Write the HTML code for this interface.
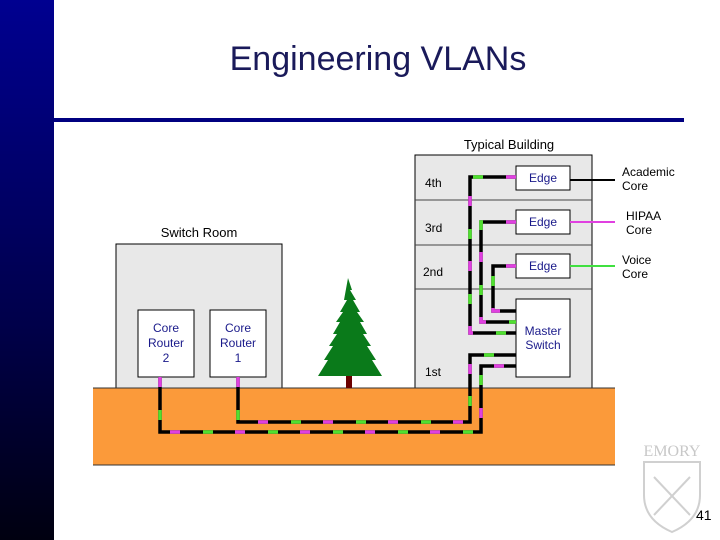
<!DOCTYPE html>
<html><head><meta charset="utf-8"><style>
body{margin:0;width:720px;height:540px;overflow:hidden;background:#fff;position:relative;font-family:"Liberation Sans",sans-serif}
</style></head><body>
<div style="position:absolute;left:0;top:0;width:54px;height:540px;background:linear-gradient(#000090,#00004a 60%,#000010)"></div>
<div style="position:absolute;left:54px;top:118px;width:630px;height:4px;background:#000080"></div>
<div style="position:absolute;left:0;top:40px;width:756px;text-align:center;font-size:34px;color:#1a1a5a">Engineering VLANs</div>
<svg width="720" height="540" style="position:absolute;left:0;top:0" font-family="Liberation Sans, sans-serif">
<rect x="116" y="244" width="166" height="144" fill="#e8e8e8" stroke="#000" stroke-width="1"/>
<text x="199" y="237" font-size="13" text-anchor="middle">Switch Room</text>
<rect x="415" y="155" width="177" height="233" fill="#e8e8e8" stroke="#000" stroke-width="1"/>
<line x1="415" y1="200" x2="592" y2="200" stroke="#444"/>
<line x1="415" y1="245" x2="592" y2="245" stroke="#444"/>
<line x1="415" y1="289" x2="592" y2="289" stroke="#444"/>
<text x="509" y="149" font-size="13" text-anchor="middle">Typical Building</text>
<g font-size="12"><text x="425" y="187">4th</text><text x="425" y="232">3rd</text><text x="423" y="276">2nd</text><text x="425" y="376">1st</text></g>
<rect x="93" y="388" width="522" height="77" fill="#fb9a3a"/>
<line x1="93" y1="465" x2="615" y2="465" stroke="#333"/>
<line x1="93" y1="388" x2="615" y2="388" stroke="#333"/>
<rect x="346" y="358" width="6" height="30" fill="#6b0000"/>
<polygon points="348,278 352,290 350,290 356,300 353,300 360,312 357,312 364,322 360,322 367,334 363,334 371,346 367,346 376,360 372,360 382,376 318,376 328,360 324,360 333,346 329,346 337,334 333,334 340,322 336,322 343,312 340,312 347,300 344,300" fill="#0a7a1a"/>
<g fill="#fff" stroke="#000">
<rect x="138" y="310" width="56" height="67"/><rect x="210" y="310" width="56" height="67"/>
<rect x="516" y="166" width="54" height="24"/><rect x="516" y="210" width="54" height="24"/><rect x="516" y="254" width="54" height="24"/>
<rect x="516" y="299" width="54" height="78"/></g>
<g font-size="12" fill="#1a1a8a" text-anchor="middle">
<text x="166" y="332">Core</text><text x="166" y="347">Router</text><text x="166" y="362">2</text>
<text x="238" y="332">Core</text><text x="238" y="347">Router</text><text x="238" y="362">1</text>
<text x="543" y="182">Edge</text><text x="543" y="226">Edge</text><text x="543" y="270">Edge</text>
<text x="543" y="335">Master</text><text x="543" y="349">Switch</text></g>
<line x1="570" y1="180" x2="615" y2="180" stroke="#000" stroke-width="2"/>
<line x1="570" y1="222" x2="615" y2="222" stroke="#e040e0" stroke-width="2"/>
<line x1="570" y1="266" x2="615" y2="266" stroke="#40e040" stroke-width="2"/>
<g font-size="12"><text x="622" y="176">Academic</text><text x="622" y="190">Core</text>
<text x="626" y="220">HIPAA</text><text x="626" y="234">Core</text>
<text x="622" y="264">Voice</text><text x="622" y="278">Core</text></g>
<g fill="none" stroke-width="3.5">
<g stroke="#000">
<polyline points="516,177 470,177 470,333 516,333"/><polyline points="516,222 481,222 481,322 516,322"/><polyline points="516,266 493,266 493,311 516,311"/>
<polyline points="238,377 238,422 470,422 470,355 516,355"/><polyline points="160,377 160,432 481,432 481,366 516,366"/></g>
<g stroke="#e040e0" stroke-dasharray="10,55">
<polyline points="516,177 470,177 470,333 516,333"/><polyline points="516,222 481,222 481,322 516,322"/><polyline points="516,266 493,266 493,311 516,311"/>
<polyline points="238,377 238,422 470,422 470,355 516,355"/><polyline points="160,377 160,432 481,432 481,366 516,366"/></g>
<g stroke="#50e030" stroke-dasharray="10,55" stroke-dashoffset="32">
<polyline points="516,177 470,177 470,333 516,333"/><polyline points="516,222 481,222 481,322 516,322"/><polyline points="516,266 493,266 493,311 516,311"/>
<polyline points="238,377 238,422 470,422 470,355 516,355"/><polyline points="160,377 160,432 481,432 481,366 516,366"/></g>
</g>
<text x="672" y="456" font-size="16" font-family="Liberation Serif, serif" fill="#c8c8c8" text-anchor="middle">EMORY</text>
<path d="M644,462 L700,462 L700,495 Q700,520 672,532 Q644,520 644,495 Z" fill="none" stroke="#d0d0d0" stroke-width="2"/>
<line x1="654" y1="477" x2="690" y2="515" stroke="#d0d0d0" stroke-width="2"/>
<line x1="690" y1="477" x2="654" y2="515" stroke="#d0d0d0" stroke-width="2"/>
<text x="696" y="520" font-size="14">41</text>
</svg>
</body></html>
